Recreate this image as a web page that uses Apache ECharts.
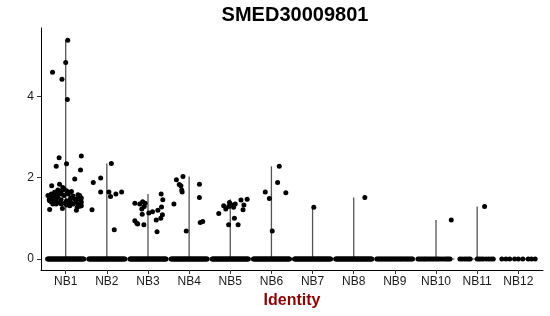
<!DOCTYPE html>
<html><head><meta charset="utf-8">
<script src="https://cdn.jsdelivr.net/npm/echarts@6/dist/echarts.min.js"></script>
<style>html,body{margin:0;padding:0;background:#fff}#c{width:550px;height:316px}</style>
</head><body><div id="c"></div>
<script>
const categories = ['NB1','NB2','NB3','NB4','NB5','NB6','NB7','NB8','NB9','NB10','NB11','NB12'];
const yTicks = [0, 2, 4];

// non-zero expression values and their horizontal jitter (category units)
const nb1Values = [5.38,4.83,4.59,4.42,3.92,2.49,2.53,2.28,2.34,2.19,1.97,1.80,1.84,
  1.76,1.72,1.68,1.70,1.68,1.64,1.64,1.66,1.60,1.57,1.60,1.60,1.56,1.56,1.56,1.55,1.56,1.50,1.51,1.47,1.51,1.46,1.43,1.44,1.47,1.48,
  1.43,1.40,1.43,1.39,1.37,1.39,1.37,1.39,1.35,1.40,1.35,1.35,1.33,1.31,1.35,1.27,1.30,1.22,1.24,1.20,1.31,1.35,1.46,1.50,1.50,1.62,1.58];
const nb1Jitter = [0.05,0.00,-0.32,-0.09,0.04,-0.16,0.38,-0.23,0.02,0.36,0.22,-0.34,-0.15,
  -0.07,-0.04,-0.10,-0.19,0.02,-0.27,0.10,0.14,-0.35,-0.31,-0.11,0.06,-0.43,-0.23,-0.04,0.18,0.34,0.38,-0.39,-0.31,-0.19,-0.11,0.02,0.10,0.22,0.30,
  -0.39,-0.35,-0.23,-0.15,-0.02,0.06,0.14,0.26,0.34,0.38,-0.23,-0.11,0.02,0.10,0.18,0.28,0.34,-0.39,-0.08,0.26,0.38,-0.31,-0.40,-0.28,0.12,-0.17,0.30];
const nb2Values = [1.88,1.99,2.35,1.65,1.65,1.54,1.60,1.65,1.21,0.72];
const nb2Jitter = [-0.33,-0.15,0.11,-0.15,0.05,0.09,0.22,0.36,-0.36,0.18];
const nb3Values = [1.37,1.35,1.41,1.37,1.29,1.23,1.10,1.13,1.16,1.20,1.60,1.46,1.28,1.09,1.00,0.96,0.94,0.88,0.86,0.84,0.67];
const nb3Jitter = [-0.32,-0.20,-0.13,-0.07,-0.09,-0.15,-0.14,0.02,0.11,0.24,0.32,0.36,0.33,0.35,0.31,0.20,-0.32,-0.27,-0.25,-0.10,0.22];
const nb4Values = [1.35,1.95,1.83,1.80,1.70,1.65,2.03,0.69,1.84,1.51,0.90,0.92];
const nb4Jitter = [-0.37,-0.31,-0.24,-0.20,-0.18,-0.17,-0.15,-0.07,0.25,0.25,0.27,0.33];
const nb5Values = [1.12,1.31,1.23,1.29,1.39,1.33,1.27,1.35,1.00,0.84,0.84,1.45,1.33,1.21,1.47];
const nb5Jitter = [-0.28,-0.16,-0.11,-0.04,-0.02,0.04,0.08,0.12,0.10,-0.04,0.19,0.26,0.33,0.31,0.41];
const nb6Values = [1.65,1.49,0.69,1.88,2.28,1.63];
const nb6Jitter = [-0.15,-0.05,0.02,0.15,0.19,0.35];
const nb7Values = [1.27];
const nb7Jitter = [0.03];
const nb8Values = [1.51];
const nb8Jitter = [0.27];
const nb9Values = [];
const nb9Jitter = [];
const nb10Values = [0.96];
const nb10Jitter = [0.37];
const nb11Values = [1.29];
const nb11Jitter = [0.18];
const nb12Values = [];
const nb12Jitter = [];

// jitter of the cells with zero expression
const zeroJitterDense = [-0.44,-0.42,-0.40,-0.38,-0.36,-0.34,-0.32,-0.30,-0.28,-0.26,-0.24,-0.22,-0.20,-0.18,-0.16,-0.14,-0.12,-0.10,-0.08,-0.06,-0.04,-0.02,
  0.00,0.02,0.04,0.06,0.08,0.10,0.12,0.14,0.16,0.18,0.20,0.22,0.24,0.26,0.28,0.30,0.32,0.34,0.36,0.38,0.40,0.42,0.44];
const zeroJitterNB9 = [-0.44,-0.41,-0.38,-0.35,-0.32,-0.29,-0.26,-0.23,-0.20,-0.17,-0.14,-0.11,-0.08,-0.05,-0.02,0.01,0.04,0.07,0.10,0.13,0.16,0.19,0.22,0.25,0.28,0.31,0.34,0.37,0.40,0.43];
const zeroJitterNB10 = [-0.44,-0.40,-0.36,-0.32,-0.28,-0.25,-0.21,-0.17,-0.13,-0.09,-0.05,-0.01,0.03,0.07,0.12,0.17,0.22,0.26,0.30,0.34];
const zeroJitterNB11 = [-0.42,-0.37,-0.31,-0.26,-0.21,-0.17,0.00,0.05,0.10,0.15,0.22,0.28,0.34,0.39];
const zeroJitterNB12 = [-0.40,-0.30,-0.21,-0.09,0.00,0.11,0.24,0.32,0.41];

const allValues = [nb1Values,nb2Values,nb3Values,nb4Values,nb5Values,nb6Values,nb7Values,nb8Values,nb9Values,nb10Values,nb11Values,nb12Values];
const allJitter = [nb1Jitter,nb2Jitter,nb3Jitter,nb4Jitter,nb5Jitter,nb6Jitter,nb7Jitter,nb8Jitter,nb9Jitter,nb10Jitter,nb11Jitter,nb12Jitter];
const allZeroJitter = [zeroJitterDense,zeroJitterDense,zeroJitterDense,zeroJitterDense,zeroJitterDense,zeroJitterDense,zeroJitterDense,zeroJitterDense,zeroJitterNB9,zeroJitterNB10,zeroJitterNB11,zeroJitterNB12];

const points = [];
const violins = [];
categories.forEach((c, i) => {
  allZeroJitter[i].forEach(j => points.push([i + j, 0]));
  allValues[i].forEach((v, k) => points.push([i + allJitter[i][k], v]));
  violins.push([i, allValues[i].length ? Math.max.apply(null, allValues[i]) : 0]);
});

const chart = echarts.init(document.getElementById('c'), null, {renderer: 'canvas'});
const idxs = categories.map((c, i) => i);
chart.setOption({
  animation: false,
  backgroundColor: '#fff',
  grid: {left: 41, right: 7, top: 28, bottom: 46, containLabel: false},
  xAxis: {
    type: 'value', min: -0.6, max: 11.6,
    splitLine: {show: false},
    axisLine: {show: true, onZero: false, lineStyle: {color: '#000', width: 1}},
    axisTick: {show: true, length: 4, customValues: idxs, lineStyle: {color: '#333'}},
    axisLabel: {show: true, customValues: idxs, margin: 6, color: '#1a1a1a', fontSize: 12,
      fontFamily: 'Liberation Sans, Arial, sans-serif', formatter: v => categories[Math.round(v)]}
  },
  yAxis: {
    type: 'value', min: -0.27, max: 5.68,
    splitLine: {show: false},
    axisLine: {show: true, onZero: false, lineStyle: {color: '#000', width: 1}},
    axisTick: {show: true, length: 4, customValues: yTicks, lineStyle: {color: '#333'}},
    axisLabel: {show: true, customValues: yTicks, margin: 7, color: '#1a1a1a', fontSize: 12,
      fontFamily: 'Liberation Sans, Arial, sans-serif'}
  },
  graphic: [
    {type: 'text', x: 295, y: 15, style: {text: 'SMED30009801', fill: '#000', font: 'bold 20px "Liberation Sans", Arial, sans-serif', textAlign: 'center', textVerticalAlign: 'middle'}},
    {type: 'text', x: 292, y: 301, style: {text: 'Identity', fill: '#8B0000', font: 'bold 16px "Liberation Sans", Arial, sans-serif', textAlign: 'center', textVerticalAlign: 'middle'}}
  ],
  series: [
    {
      type: 'custom', silent: true, z: 1,
      data: violins,
      renderItem: (params, api) => {
        const i = api.value(0), top = api.value(1);
        const l = api.coord([i - 0.45, 0]), r = api.coord([i + 0.45, 0]);
        const b = api.coord([i, 0]), t = api.coord([i, top]);
        const children = [{type: 'line', shape: {x1: l[0], y1: l[1], x2: r[0], y2: r[1]}, style: {stroke: '#444', lineWidth: 1}}];
        if (top > 0) children.push({type: 'line', shape: {x1: b[0], y1: b[1], x2: t[0], y2: t[1]}, style: {stroke: '#555', lineWidth: 1.3}});
        return {type: 'group', children};
      }
    },
    {
      type: 'scatter', z: 2, symbol: 'circle', symbolSize: 5,
      itemStyle: {color: '#000', opacity: 1},
      data: points
    }
  ]
});
</script></body></html>
